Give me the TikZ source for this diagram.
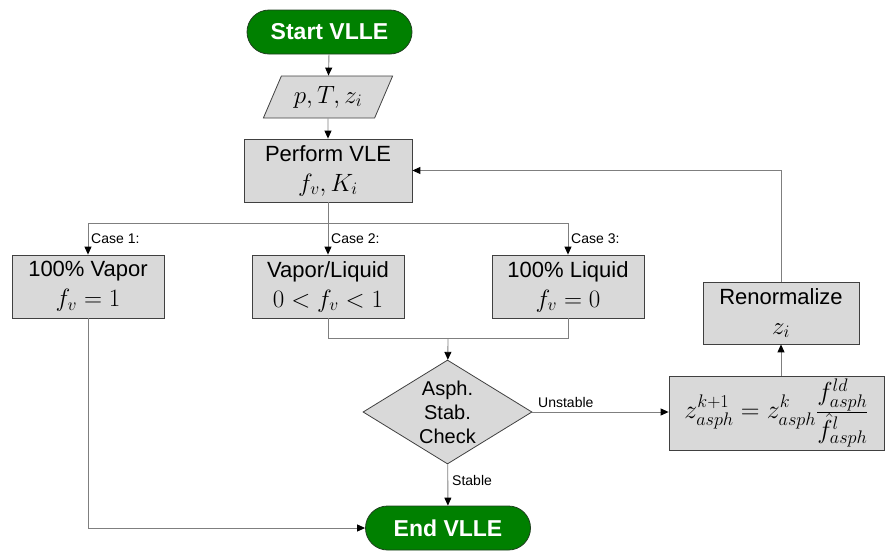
\RequirePackage{fix-cm}
\documentclass[tikz,border=0pt]{standalone}
\usepackage[no-math]{fontspec}
\setmainfont{Liberation Sans}
\usetikzlibrary{arrows.meta,shapes.geometric,shapes.misc}
\definecolor{boxfill}{HTML}{D9D9D9}
\definecolor{boxline}{HTML}{404040}
\definecolor{pillgreen}{HTML}{008000}
\definecolor{pillline}{HTML}{1F3F1F}
\definecolor{conn}{HTML}{7F7F7F}
\newcommand\mymth[1]{{\fontsize{25}{30}\selectfont$#1$}}
\begin{document}
\begin{tikzpicture}[x=1pt,y=-1pt,
  box/.style={draw=boxline, fill=boxfill, line width=0.8pt, align=center, inner sep=0pt, font=\fontsize{22}{30}\selectfont},
  pill/.style={draw=pillline, fill=pillgreen, rounded rectangle, minimum height=44pt, minimum width=165pt, text=white, font=\fontsize{23}{27}\selectfont\bfseries, inner sep=0pt, line width=0.8pt},
  arr/.style={draw=conn, line width=0.9pt, -{Triangle[length=8pt,width=7pt,color=black]}},
  ln/.style={draw=conn, line width=0.9pt},
  lbl/.style={font=\fontsize{14}{16}\selectfont, inner sep=0pt, anchor=west}]
\useasboundingbox (0,0) rectangle (886,552);
% nodes
\node[pill] (start) at (329.5,32) {Start VLLE};
\node[box, trapezium, trapezium left angle=59, trapezium right angle=121, trapezium stretches=true, minimum width=130pt, minimum height=42pt] (inp) at (328,97) {\mymth{p,T,z_i}};
\node[box, minimum width=168pt, minimum height=63pt] (pv) at (328,170.5) {Perform VLE\\\mymth{f_v,K_i}};
\node[box, minimum width=152pt, minimum height=63pt] (v1) at (88,286.5) {100\% Vapor\\\mymth{f_v=1}};
\node[box, minimum width=152pt, minimum height=63pt] (v2) at (328,286.5) {Vapor/Liquid\\\mymth{0<f_v<1}};
\node[box, minimum width=152pt, minimum height=63pt] (v3) at (568,286.5) {100\% Liquid\\\mymth{f_v=0}};
\node[draw=boxline, fill=boxfill, diamond, minimum width=169pt, minimum height=104pt, inner sep=0pt, line width=0.8pt,
  label={[align=center,font=\fontsize{20}{24}\selectfont]center:Asph.\\Stab.\\Check}] (dia) at (447.5,412) {};
\node[pill] (end) at (448,528) {End VLLE};
\node[box, minimum width=156pt, minimum height=62pt] (ren) at (781,313) {Renormalize\\\mymth{z_i}};
\node[box, minimum width=215pt, minimum height=74pt, font=\fontsize{26}{30}\selectfont] (fm) at (776.5,413)
  {$\displaystyle z^{k+1}_{asph} = z^{k}_{asph}\frac{f^{ld}_{asph}\rule[-4pt]{0pt}{4pt}}{\rule{0pt}{16pt}\hat{f}^{l}_{asph}}$};
% labels
\node[lbl] (c1) at (91,239) {Case 1:};
\node[lbl] (c2) at (331,239) {Case 2:};
\node[lbl] (c3) at (571,239) {Case 3:};
\node[lbl] (lunst) at (538,402) {Unstable};
\node[lbl] (lstab) at (452,480) {Stable};
% connectors
\coordinate (br) at (328,223);
\coordinate (mg) at (448,338);
\draw[arr] (start) -- (inp);
\draw[arr] (inp) -- (pv);
\draw[ln] (pv) -- (br);
\draw[arr] (br) -| (v1);
\draw[arr] (br) -- (v2);
\draw[arr] (br) -| (v3);
\draw[ln] (v2) |- (mg);
\draw[ln] (v3) |- (mg);
\draw[arr] (mg) -- (dia);
\draw[arr] (dia) -- (end);
\draw[arr] (dia.east) -- (dia.east -| fm.west);
\draw[arr] (fm.north -| ren.south) -- (ren.south);
\draw[arr] (ren.north) |- (pv.east);
\draw[arr] (v1) |- (end);
\end{tikzpicture}
\end{document}
